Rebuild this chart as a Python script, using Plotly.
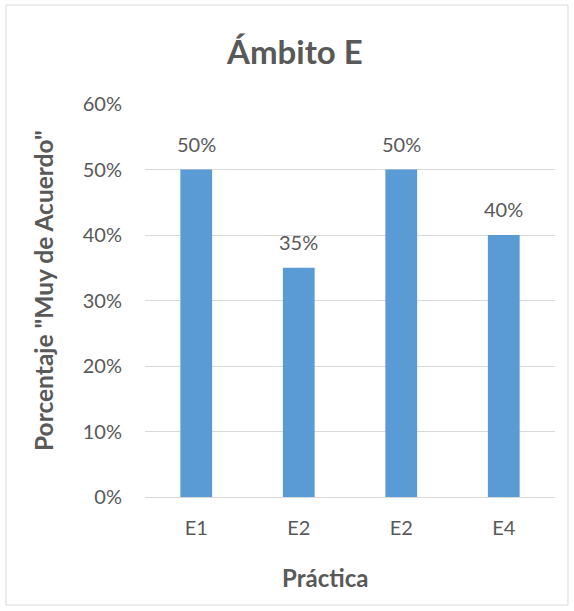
import plotly.graph_objects as go

# Chart data
categories = ["E1", "E2", "E2", "E4"]
values = [50, 35, 50, 40]
y_ticks = [0, 10, 20, 30, 40, 50, 60]
y_tick_labels = [f"{v}%" for v in y_ticks]

W, H = 574, 611
ML, MR, MT, MB = 145, 19, 104, 114
PW, PH = W - ML - MR, H - MT - MB

FONT = "Lato"
TXT = "#595959"
GRID = "#D9D9D9"
BAR = "#5B9BD5"

def px_x(x):
    return (x - ML) / PW

def px_y(y):
    return 1 - (y - MT) / PH

positions = list(range(len(categories)))

fig = go.Figure(
    go.Bar(
        x=positions,
        y=values,
        marker=dict(color=BAR, line=dict(width=0)),
        width=0.31,
        hoverinfo="skip",
    )
)

# value labels above each bar
value_labels = [
    dict(x=p, y=v, xref="x", yref="y", text=f"{v}%", showarrow=False,
         xanchor="center", yanchor="middle", yshift=26,
         font=dict(family=FONT, size=20, color=TXT))
    for p, v in zip(positions, values)
]

fig.update_layout(
    width=W,
    height=H,
    margin=dict(l=ML, r=MR, t=MT, b=MB),
    paper_bgcolor="white",
    plot_bgcolor="white",
    showlegend=False,
    font=dict(family=FONT, color=TXT),
    xaxis=dict(
        tickmode="array",
        tickvals=positions,
        ticktext=categories,
        range=[-0.5, len(categories) - 0.5],
        showgrid=False,
        zeroline=False,
        showline=False,
        ticks="",
        ticklabelstandoff=17,
        tickfont=dict(family=FONT, size=20, color=TXT),
    ),
    yaxis=dict(
        range=[0, 60],
        tickmode="array",
        tickvals=y_ticks,
        ticktext=y_tick_labels,
        showgrid=True,
        gridcolor=GRID,
        gridwidth=1,
        zeroline=True,
        zerolinecolor=GRID,
        zerolinewidth=1,
        showline=False,
        ticks="",
        ticklabelstandoff=22,
        tickfont=dict(family=FONT, size=20, color=TXT),
    ),
    annotations=value_labels + [
        dict(text="<b>Ámbito E</b>", x=px_x(294), y=px_y(51), xref="paper", yref="paper",
             showarrow=False, xanchor="center", yanchor="middle",
             font=dict(family=FONT, size=33, color=TXT)),
        dict(text="<b>Porcentaje \"Muy de Acuerdo\"</b>", x=px_x(43), y=px_y(291),
             xref="paper", yref="paper", showarrow=False, textangle=-90,
             xanchor="center", yanchor="middle",
             font=dict(family=FONT, size=24.5, color=TXT)),
        dict(text="<b>Práctica</b>", x=px_x(325), y=px_y(577), xref="paper", yref="paper",
             showarrow=False, xanchor="center", yanchor="middle",
             font=dict(family=FONT, size=24, color=TXT)),
    ],
    shapes=[
        dict(type="rect", xref="paper", yref="paper",
             x0=px_x(6), x1=px_x(568), y0=px_y(605), y1=px_y(5),
             line=dict(color=GRID, width=1), fillcolor="rgba(0,0,0,0)", layer="below"),
    ],
)

fig.write_html("out.html")
